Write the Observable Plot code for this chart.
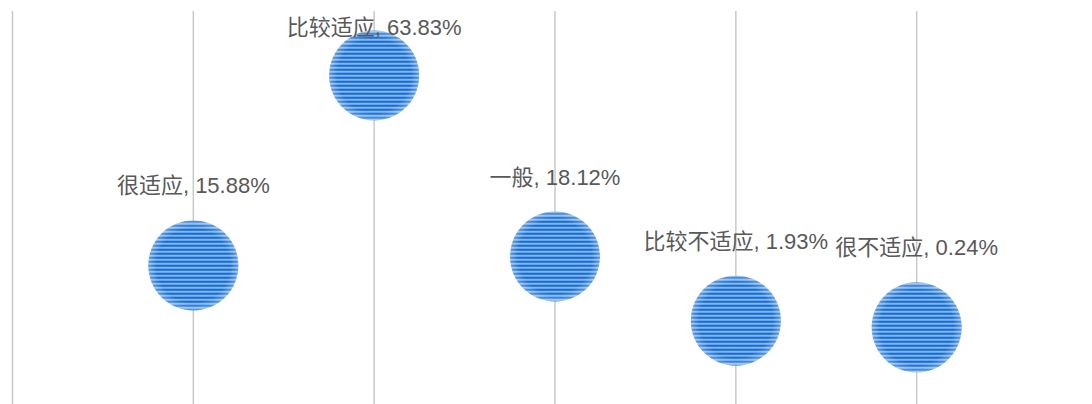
<!DOCTYPE html>
<html>
<head>
<meta charset="utf-8">
<script src="https://cdn.jsdelivr.net/npm/d3@7"></script>
<script src="https://cdn.jsdelivr.net/npm/@observablehq/plot@0.6"></script>
<style>
  html, body { margin: 0; padding: 0; background: #fff; }
  #chart svg { display: block; }
</style>
</head>
<body>
<div id="chart"></div>
<script>
const categories = ["很适应", "比较适应", "一般", "比较不适应", "很不适应"];
const values = [15.88, 63.83, 18.12, 1.93, 0.24];
const gridPositions = [0, 1, 2, 3, 4, 5];

const data = categories.map((c, i) => ({ cat: c, pos: i + 1, value: values[i], label: `${c}, ${values[i].toFixed(2)}%` }));
const maxVal = d3.max(values);

const font = '"Liberation Sans", "Noto Sans CJK SC", sans-serif';

const plot = Plot.plot({
  width: 1092,
  height: 404,
  margin: 0,
  x: { domain: [0, 6], range: [12, 1097], axis: null },
  y: { domain: [-20, 80], range: [407, 11], axis: null },
  style: { fontFamily: font, background: "transparent" },
  marks: [
    Plot.ruleX(gridPositions, { x: d => d, y1: -20, y2: 80, stroke: "#c9c9c9", strokeWidth: 1.5 }),
    Plot.dot(data, { x: "pos", y: "value", r: 45, fill: "url(#stripes)", stroke: "none" }),
    Plot.dot(data, { x: "pos", y: "value", r: 45, fill: "url(#edge)", stroke: "none" }),
    Plot.text(data.filter(d => d.value !== maxVal), { x: "pos", y: "value", text: "label", dy: -79, fontSize: 22, fill: "#595959" }),
    Plot.text(data.filter(d => d.value === maxVal), { x: "pos", y: "value", text: "label", dy: -48, fontSize: 22, fill: "#595959" })
  ]
});

const svg = d3.select(plot);
const defs = svg.insert("defs", ":first-child");
const pat = defs.append("pattern")
  .attr("id", "stripes")
  .attr("patternUnits", "userSpaceOnUse")
  .attr("width", 8).attr("height", 4);
pat.append("rect").attr("x", 0).attr("y", 0).attr("width", 8).attr("height", 2).attr("fill", "#156ccf");
pat.append("rect").attr("x", 0).attr("y", 2).attr("width", 8).attr("height", 1).attr("fill", "#4a93e2");
pat.append("rect").attr("x", 0).attr("y", 3).attr("width", 8).attr("height", 1).attr("fill", "#bcd9f6");
const rg = defs.append("radialGradient").attr("id", "edge").attr("cx", "50%").attr("cy", "50%").attr("r", "50%");
rg.append("stop").attr("offset", "0%").attr("stop-color", "#ffffff").attr("stop-opacity", 0);
rg.append("stop").attr("offset", "82%").attr("stop-color", "#ffffff").attr("stop-opacity", 0);
rg.append("stop").attr("offset", "100%").attr("stop-color", "#ffffff").attr("stop-opacity", 0.3);

document.getElementById("chart").appendChild(plot);
</script>
</body>
</html>
